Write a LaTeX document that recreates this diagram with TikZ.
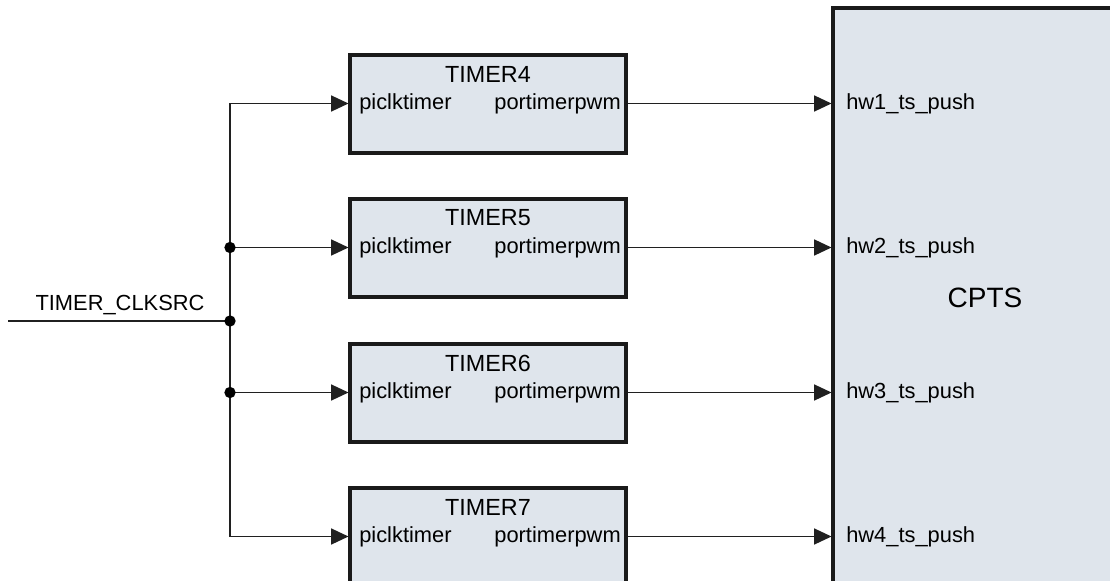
\documentclass[tikz,border=0pt]{standalone}
\usepackage{fontspec}
\setmainfont{Liberation Sans}
\usetikzlibrary{arrows.meta}
\definecolor{boxfill}{HTML}{DFE5EC}
\definecolor{boxline}{HTML}{1A1A1A}
\definecolor{wire}{HTML}{202020}
\tikzset{
  blockbox/.style={draw=boxline, line width=3pt, fill=boxfill},
  title/.style={font=\fontsize{17.5}{20}\selectfont, inner sep=0pt},
  portlbl/.style={font=\fontsize{16.4}{19}\selectfont, inner sep=0pt},
  bigl/.style={font=\fontsize{21}{25}\selectfont, inner sep=0pt},
  wireline/.style={draw=wire, line width=1pt},
  sig/.style={wireline, -{Triangle[length=13pt,width=12pt]}},
  junction/.style={circle, fill=black, inner sep=0pt, minimum size=8.5pt},
}
\begin{document}
\begin{tikzpicture}[x=0.75pt,y=-0.75pt]
\useasboundingbox (0,0) rectangle (1110,581);
\clip (0,0) rectangle (1110,581);
\fill[white] (0,0) rectangle (1110,581);
% CPTS block
\draw[blockbox] (833,8) rectangle (1130,600);
\node[bigl] (cpts) at (985,298) {CPTS};
% timer blocks
\foreach \n/\t in {4/55,5/199,6/344,7/488}{
  \draw[blockbox] (350,\t) rectangle (626,\t+98);
  \node[title] (title\n) at (488,\t+19) {TIMER\n};
  \node[portlbl, anchor=west] (pin\n) at (359,\t+48.5) {piclktimer};
  \node[portlbl, anchor=east] (pout\n) at (621,\t+48.5) {portimerpwm};
  \coordinate (tin\n) at (348.5,\t+48.5);
  \coordinate (tout\n) at (628,\t+48.5);
  \coordinate (cin\n) at (831.5,\t+48.5);
  \coordinate (bus\n) at (230,\t+48.5);
}
\foreach \n/\k in {4/1,5/2,6/3,7/4}{
  \node[portlbl, anchor=west] (hw\k) at (846,0 |- cin\n) {hw\k\_ts\_push};
  \draw[sig] (tout\n) -- (cin\n);
}
% clock source
\coordinate (src) at (8,321);
\coordinate (bussrc) at (230,321);
\node[portlbl] (srclbl) at (120,305) {TIMER\_CLKSRC};
\draw[wireline] (src) -- (bussrc);
\draw[wireline] (bus4) -- (bus7);
\foreach \n in {4,5,6,7}{
  \draw[sig] (bus\n) -- (tin\n);
}
\node[junction] (j5) at (bus5) {};
\node[junction] (jsrc) at (bussrc) {};
\node[junction] (j6) at (bus6) {};
\end{tikzpicture}
\end{document}
